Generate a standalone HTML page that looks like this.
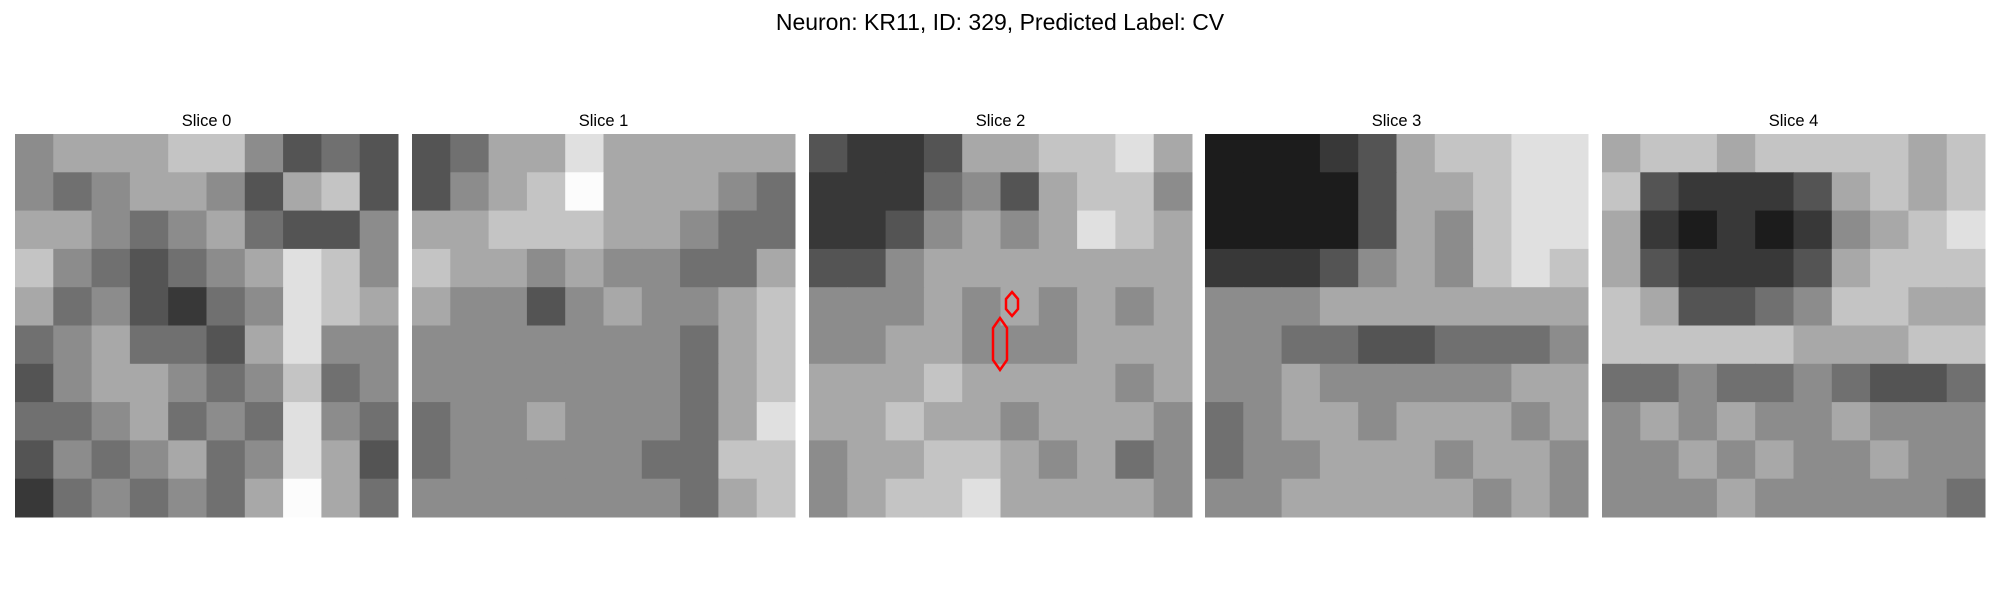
<!DOCTYPE html>
<html><head><meta charset="utf-8"><style>
html,body{margin:0;padding:0;background:#fff;width:2000px;height:600px;overflow:hidden}
svg text{font-family:"Liberation Sans",sans-serif;fill:#000}
</style></head><body>
<svg id="chart" width="2000" height="600" viewBox="0 0 2000 600" xmlns="http://www.w3.org/2000/svg">
<text x="1000" y="30" text-anchor="middle" font-size="23">Neuron: KR11, ID: 329, Predicted Label: CV</text>
</svg>
<script>
const sliceTitles=["Slice 0","Slice 1","Slice 2","Slice 3","Slice 4"];
const slice0=[[5,6,6,6,7,7,5,3,4,3],[5,4,5,6,6,5,3,6,7,3],[6,6,5,4,5,6,4,3,3,5],[7,5,4,3,4,5,6,8,7,5],[6,4,5,3,2,4,5,8,7,6],[4,5,6,4,4,3,6,8,5,5],[3,5,6,6,5,4,5,7,4,5],[4,4,5,6,4,5,4,8,5,4],[3,5,4,5,6,4,5,8,6,3],[2,4,5,4,5,4,6,9,6,4]];
const slice1=[[3,4,6,6,8,6,6,6,6,6],[3,5,6,7,9,6,6,6,5,4],[6,6,7,7,7,6,6,5,4,4],[7,6,6,5,6,5,5,4,4,6],[6,5,5,3,5,6,5,5,6,7],[5,5,5,5,5,5,5,4,6,7],[5,5,5,5,5,5,5,4,6,7],[4,5,5,6,5,5,5,4,6,8],[4,5,5,5,5,5,4,4,7,7],[5,5,5,5,5,5,5,4,6,7]];
const slice2=[[3,2,2,3,6,6,7,7,8,6],[2,2,2,4,5,3,6,7,7,5],[2,2,3,5,6,5,6,8,7,6],[3,3,5,6,6,6,6,6,6,6],[5,5,5,6,5,6,5,6,5,6],[5,5,6,6,5,5,5,6,6,6],[6,6,6,7,6,6,6,6,5,6],[6,6,7,6,6,5,6,6,6,5],[5,6,6,7,7,6,5,6,4,5],[5,6,7,7,8,6,6,6,6,5]];
const slice3=[[1,1,1,2,3,6,7,7,8,8],[1,1,1,1,3,6,6,7,8,8],[1,1,1,1,3,6,5,7,8,8],[2,2,2,3,5,6,5,7,8,7],[5,5,5,6,6,6,6,6,6,6],[5,5,4,4,3,3,4,4,4,5],[5,5,6,5,5,5,5,5,6,6],[4,5,6,6,5,6,6,6,5,6],[4,5,5,6,6,6,5,6,6,5],[5,5,6,6,6,6,6,5,6,5]];
const slice4=[[6,7,7,6,7,7,7,7,6,7],[7,3,2,2,2,3,6,7,6,7],[6,2,1,2,1,2,5,6,7,8],[6,3,2,2,2,3,6,7,7,7],[7,6,3,3,4,5,7,7,6,6],[7,7,7,7,7,6,6,6,7,7],[4,4,5,4,4,5,4,3,3,4],[5,6,5,6,5,5,6,5,5,5],[5,5,6,5,6,5,5,6,5,5],[5,5,5,6,5,5,5,5,5,4]];
const slices=[slice0,slice1,slice2,slice3,slice4];
const NS="http://www.w3.org/2000/svg";
const svg=document.getElementById("chart");
const panelX=[15,412,809,1205,1602], panelY=134, panelS=383;
function gray(v){const g=Math.round(Math.min(255,v*28));return `rgb(${g},${g},${g})`;}
slices.forEach((grid,p)=>{
  const g=document.createElementNS(NS,"g");
  
  
  const n=grid.length, c=panelS/n;
  grid.forEach((row,r)=>row.forEach((v,k)=>{
    const rect=document.createElementNS(NS,"rect");
    
    
    rect.setAttribute("x",panelX[p]+k*c);rect.setAttribute("y",panelY+r*c);
    rect.setAttribute("width",c+0.5);rect.setAttribute("height",c+0.5);
    rect.setAttribute("fill",gray(v));
    g.appendChild(rect);
  }));
  svg.appendChild(g);
  const t=document.createElementNS(NS,"text");
  
  
  t.setAttribute("x",panelX[p]+panelS/2);t.setAttribute("y",126);
  t.setAttribute("text-anchor","middle");t.setAttribute("font-size","16.5");
  t.textContent=sliceTitles[p];
  svg.appendChild(t);
});
const contours=[[[203,158],[209,165],[209,175],[203,182],[197,175],[197,165]],[[191,184],[198,194],[198,226],[191,236],[184,226],[184,194]]];
contours.forEach(pts=>{
  const pl=document.createElementNS(NS,"polygon");
  
  
  pl.setAttribute("points",pts.map(q=>(panelX[2]+q[0])+","+(panelY+q[1])).join(" "));
  pl.setAttribute("fill","none");pl.setAttribute("stroke","#f00");pl.setAttribute("stroke-width","2.5");
  svg.appendChild(pl);
});
</script>
</body></html>
